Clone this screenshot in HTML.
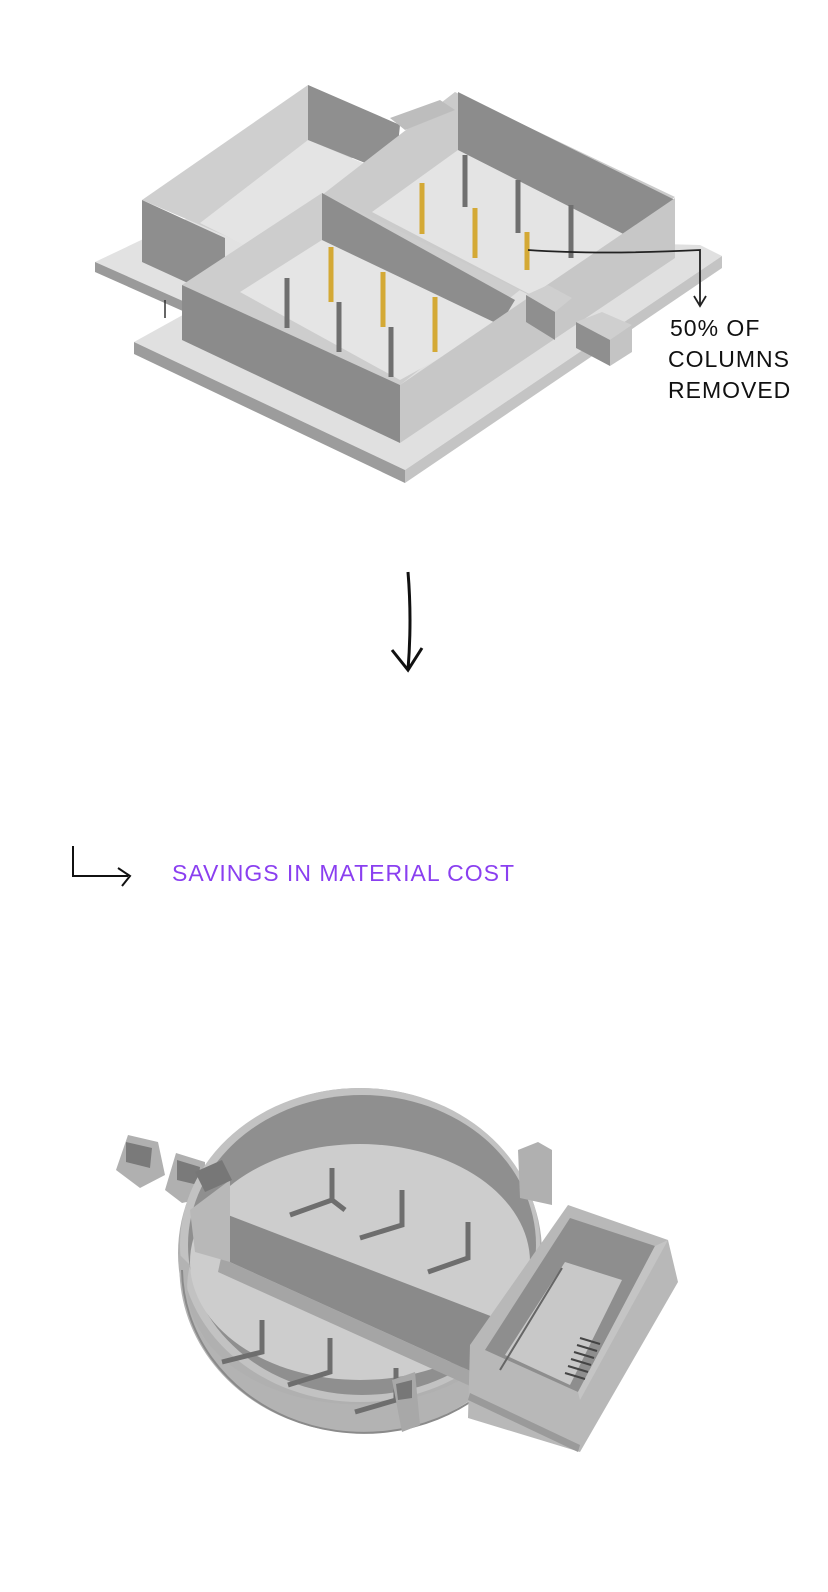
<!DOCTYPE html>
<html><head><meta charset="utf-8"><style>
html,body{margin:0;padding:0;background:#fff;}
svg{display:block}
</style></head><body>
<svg width="828" height="1592" viewBox="0 0 828 1592" xmlns="http://www.w3.org/2000/svg">
<!-- TOP MODEL -->
<polygon points="95,262 215,205 470,215 460,240 230,330 95,270" fill="#e2e2e2"/>
<polygon points="95,262 230,322 230,332 95,272" fill="#9a9a9a"/>
<polygon points="134,342 405,470 722,256 700,245 520,240 300,250" fill="#e0e0e0"/>
<polygon points="134,342 405,470 405,483 134,354" fill="#9c9c9c"/>
<polygon points="405,470 722,256 722,268 405,483" fill="#c4c4c4"/>
<polygon points="142,200 308,85 400,125 235,240" fill="#cfcfcf"/>
<polygon points="200,223 308,140 380,170 270,258" fill="#e4e4e4"/>
<polygon points="308,85 308,140 395,175 400,125" fill="#8f8f8f"/>
<polygon points="142,200 142,262 225,300 225,238" fill="#8e8e8e"/>
<polygon points="322,195 455,92 675,197 540,300" fill="#cbcbcb"/>
<polygon points="372,212 458,150 645,245 560,310" fill="#e4e4e4"/>
<polygon points="458,92 458,150 645,245 675,200" fill="#8c8c8c"/>
<polygon points="390,118 440,100 455,110 405,130" fill="#bdbdbd"/>
<polygon points="182,285 322,193 520,290 400,385" fill="#cdcdcd"/>
<polygon points="240,292 322,240 500,325 400,380" fill="#e5e5e5"/>
<polygon points="322,193 322,240 500,325 515,300" fill="#8d8d8d"/>
<polygon points="182,285 400,385 400,443 182,340" fill="#8b8b8b"/>
<polygon points="400,385 675,198 675,258 400,443" fill="#c7c7c7"/>
<polygon points="526,295 548,285 572,298 555,312" fill="#cfcfcf"/>
<polygon points="526,295 555,312 555,340 526,322" fill="#8f8f8f"/>
<polygon points="576,322 602,312 632,325 610,340" fill="#cfcfcf"/>
<polygon points="576,322 610,340 610,366 576,348" fill="#8f8f8f"/>
<polygon points="610,340 632,325 632,352 610,366" fill="#c4c4c4"/>
<g stroke="#6f6f6f" stroke-width="5">
<line x1="465" y1="155" x2="465" y2="207"/><line x1="518" y1="180" x2="518" y2="233"/>
<line x1="571" y1="205" x2="571" y2="258"/><line x1="287" y1="278" x2="287" y2="328"/>
<line x1="339" y1="302" x2="339" y2="352"/><line x1="391" y1="327" x2="391" y2="377"/>
</g>
<g stroke="#d4a935" stroke-width="5">
<line x1="422" y1="183" x2="422" y2="234"/><line x1="475" y1="208" x2="475" y2="258"/>
<line x1="527" y1="232" x2="527" y2="270"/><line x1="331" y1="247" x2="331" y2="302"/>
<line x1="383" y1="272" x2="383" y2="327"/><line x1="435" y1="297" x2="435" y2="352"/>
</g>
<line x1="165" y1="300" x2="165" y2="318" stroke="#333" stroke-width="1.5"/>
<path d="M528,250 Q600,255 700,250 L700,305 M694,296 L700,306 L706,296" fill="none" stroke="#222" stroke-width="1.8"/>
<g font-family="Liberation Sans, sans-serif" font-size="23" fill="#111" letter-spacing="1">
<text x="670" y="336">50% OF</text>
<text x="668" y="367">COLUMNS</text>
<text x="668" y="398">REMOVED</text>
</g>
<path d="M408,572 Q412,620 408,670 M392,650 L408,670 L422,648" fill="none" stroke="#111" stroke-width="3"/>
<path d="M73,846 L73,876 L128,876 M118,868 L130,876 L122,886" fill="none" stroke="#111" stroke-width="2"/>
<text x="172" y="881" font-family="Liberation Sans, sans-serif" font-size="23" fill="#8a3ff0" letter-spacing="1">SAVINGS IN MATERIAL COST</text>

<!-- BOTTOM MODEL -->
<!-- small boxes left -->
<polygon points="116,1170 128,1135 158,1142 165,1175 140,1188" fill="#b0b0b0"/>
<polygon points="126,1142 152,1148 150,1168 126,1162" fill="#7a7a7a"/>
<polygon points="165,1190 176,1153 205,1162 205,1198 182,1203" fill="#b0b0b0"/>
<polygon points="177,1160 200,1167 198,1185 177,1180" fill="#7a7a7a"/>
<!-- circle -->
<ellipse cx="360" cy="1253" rx="182" ry="165" fill="#b0b0b0"/>
<ellipse cx="360" cy="1245" rx="180" ry="157" fill="#c2c2c2"/>
<ellipse cx="362" cy="1245" rx="174" ry="150" fill="#8f8f8f"/>
<ellipse cx="360" cy="1262" rx="170" ry="118" fill="#cdcdcd"/>
<!-- front outer wall band -->
<path d="M180,1255 A182,165 0 0 0 500,1375 L490,1360 A170,118 0 0 1 190,1265 Z" fill="#b3b3b3"/>
<path d="M182,1270 A182,165 0 0 0 480,1395" fill="none" stroke="#8a8a8a" stroke-width="2"/>
<!-- divider wall -->
<polygon points="228,1215 532,1332 499,1384 221,1258" fill="#8a8a8a"/>
<polygon points="221,1258 499,1384 490,1395 218,1272" fill="#a5a5a5"/>
<polygon points="190,1210 230,1180 230,1262 195,1252" fill="#b8b8b8"/>
<polygon points="195,1172 222,1160 232,1180 205,1192" fill="#777"/>
<!-- Y legs -->
<g stroke="#6e6e6e" stroke-width="5" fill="none">
<path d="M332,1168 L332,1200 L290,1215"/><path d="M332,1200 L345,1210"/>
<path d="M402,1190 L402,1225 L360,1238"/><path d="M468,1222 L468,1258 L428,1272"/>
<path d="M262,1320 L262,1352 L222,1362"/><path d="M330,1338 L330,1372 L288,1385"/>
<path d="M396,1368 L396,1400 L355,1412"/>
</g>
<!-- small boxes on ring -->
<polygon points="518,1150 538,1142 552,1150 552,1205 520,1198" fill="#b0b0b0"/>
<polygon points="392,1380 415,1372 420,1425 402,1432" fill="#a8a8a8"/>
<polygon points="396,1384 412,1380 412,1398 398,1400" fill="#777"/>
<!-- right rectangle box -->
<polygon points="470,1345 568,1205 668,1240 678,1282 580,1452 468,1418" fill="#b8b8b8"/>
<polygon points="468,1400 578,1452 580,1445 470,1393" fill="#9a9a9a"/>
<polygon points="485,1350 570,1218 655,1246 578,1392" fill="#8e8e8e"/>
<polygon points="505,1355 565,1262 622,1280 570,1385" fill="#c8c8c8"/>
<polygon points="578,1392 655,1246 668,1240 580,1400" fill="#c4c4c4"/>
<line x1="500" y1="1370" x2="562" y2="1268" stroke="#666" stroke-width="2"/>
<g stroke="#444" stroke-width="2">
<line x1="580" y1="1338" x2="600" y2="1344"/><line x1="577" y1="1345" x2="597" y2="1351"/>
<line x1="574" y1="1352" x2="594" y2="1358"/><line x1="571" y1="1359" x2="591" y2="1365"/>
<line x1="568" y1="1366" x2="588" y2="1372"/><line x1="565" y1="1373" x2="585" y2="1379"/>
</g>
</svg>
</body></html>
